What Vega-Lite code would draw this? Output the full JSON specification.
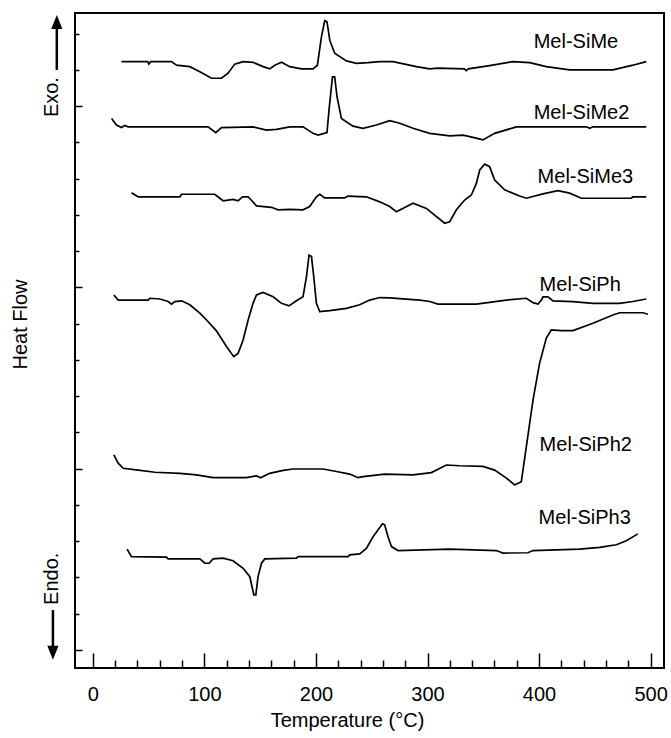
{
"$schema": "https://vega.github.io/schema/vega-lite/v6.json",
"width": 589, "height": 655,
"autosize": {"type": "none"},
"padding": {"left": 75, "top": 13, "right": 7, "bottom": 70},
"background": "white",
"config": {"view": {"stroke": "black", "strokeWidth": 2}, "font": "Liberation Sans"},
"datasets": {
"curves": [
{"s":"Mel-SiMe","T":25.7,"H":16.23},{"s":"Mel-SiMe","T":49.3,"H":16.23},{"s":"Mel-SiMe","T":50.2,"H":16.16},{"s":"Mel-SiMe","T":52.0,"H":16.23},{"s":"Mel-SiMe","T":70.5,"H":16.23},{"s":"Mel-SiMe","T":75.0,"H":16.13},{"s":"Mel-SiMe","T":86.9,"H":16.09},{"s":"Mel-SiMe","T":95.9,"H":15.95},{"s":"Mel-SiMe","T":106.4,"H":15.77},{"s":"Mel-SiMe","T":115.3,"H":15.77},{"s":"Mel-SiMe","T":121.2,"H":15.91},{"s":"Mel-SiMe","T":127.2,"H":16.16},{"s":"Mel-SiMe","T":134.7,"H":16.23},{"s":"Mel-SiMe","T":143.6,"H":16.21},{"s":"Mel-SiMe","T":152.6,"H":16.09},{"s":"Mel-SiMe","T":158.6,"H":16.03},{"s":"Mel-SiMe","T":163.1,"H":16.13},{"s":"Mel-SiMe","T":169.1,"H":16.21},{"s":"Mel-SiMe","T":176.5,"H":16.09},{"s":"Mel-SiMe","T":187.0,"H":16.03},{"s":"Mel-SiMe","T":197.4,"H":16.03},{"s":"Mel-SiMe","T":201.3,"H":16.13},{"s":"Mel-SiMe","T":204.9,"H":16.91},{"s":"Mel-SiMe","T":207.9,"H":17.36},{"s":"Mel-SiMe","T":209.9,"H":17.33},{"s":"Mel-SiMe","T":212.4,"H":16.82},{"s":"Mel-SiMe","T":216.8,"H":16.46},{"s":"Mel-SiMe","T":227.3,"H":16.25},{"s":"Mel-SiMe","T":236.3,"H":16.18},{"s":"Mel-SiMe","T":246.7,"H":16.20},{"s":"Mel-SiMe","T":257.2,"H":16.23},{"s":"Mel-SiMe","T":269.1,"H":16.23},{"s":"Mel-SiMe","T":290.0,"H":16.09},{"s":"Mel-SiMe","T":302.0,"H":16.03},{"s":"Mel-SiMe","T":309.4,"H":16.05},{"s":"Mel-SiMe","T":333.0,"H":16.03},{"s":"Mel-SiMe","T":334.8,"H":15.98},{"s":"Mel-SiMe","T":336.5,"H":16.03},{"s":"Mel-SiMe","T":355.7,"H":16.12},{"s":"Mel-SiMe","T":376.6,"H":16.23},{"s":"Mel-SiMe","T":391.6,"H":16.20},{"s":"Mel-SiMe","T":406.5,"H":16.09},{"s":"Mel-SiMe","T":427.4,"H":16.00},{"s":"Mel-SiMe","T":466.2,"H":16.00},{"s":"Mel-SiMe","T":484.1,"H":16.13},{"s":"Mel-SiMe","T":496.1,"H":16.23},
{"s":"Mel-SiMe2","T":16.8,"H":14.66},{"s":"Mel-SiMe2","T":21.2,"H":14.48},{"s":"Mel-SiMe2","T":25.7,"H":14.41},{"s":"Mel-SiMe2","T":28.7,"H":14.47},{"s":"Mel-SiMe2","T":31.6,"H":14.43},{"s":"Mel-SiMe2","T":103.3,"H":14.43},{"s":"Mel-SiMe2","T":110.2,"H":14.27},{"s":"Mel-SiMe2","T":115.3,"H":14.41},{"s":"Mel-SiMe2","T":143.6,"H":14.43},{"s":"Mel-SiMe2","T":155.6,"H":14.34},{"s":"Mel-SiMe2","T":164.6,"H":14.36},{"s":"Mel-SiMe2","T":176.5,"H":14.43},{"s":"Mel-SiMe2","T":188.4,"H":14.43},{"s":"Mel-SiMe2","T":197.4,"H":14.25},{"s":"Mel-SiMe2","T":201.9,"H":14.20},{"s":"Mel-SiMe2","T":209.9,"H":14.27},{"s":"Mel-SiMe2","T":211.7,"H":14.89},{"s":"Mel-SiMe2","T":214.8,"H":15.81},{"s":"Mel-SiMe2","T":216.8,"H":15.81},{"s":"Mel-SiMe2","T":218.9,"H":15.26},{"s":"Mel-SiMe2","T":222.8,"H":14.66},{"s":"Mel-SiMe2","T":233.2,"H":14.45},{"s":"Mel-SiMe2","T":242.2,"H":14.39},{"s":"Mel-SiMe2","T":254.2,"H":14.48},{"s":"Mel-SiMe2","T":266.1,"H":14.60},{"s":"Mel-SiMe2","T":275.1,"H":14.53},{"s":"Mel-SiMe2","T":287.0,"H":14.39},{"s":"Mel-SiMe2","T":302.0,"H":14.25},{"s":"Mel-SiMe2","T":319.9,"H":14.18},{"s":"Mel-SiMe2","T":331.8,"H":14.20},{"s":"Mel-SiMe2","T":340.8,"H":14.14},{"s":"Mel-SiMe2","T":349.7,"H":14.07},{"s":"Mel-SiMe2","T":360.2,"H":14.25},{"s":"Mel-SiMe2","T":379.7,"H":14.43},{"s":"Mel-SiMe2","T":442.4,"H":14.43},{"s":"Mel-SiMe2","T":445.4,"H":14.39},{"s":"Mel-SiMe2","T":448.4,"H":14.43},{"s":"Mel-SiMe2","T":496.1,"H":14.43},
{"s":"Mel-SiMe3","T":34.7,"H":12.61},{"s":"Mel-SiMe3","T":40.6,"H":12.50},{"s":"Mel-SiMe3","T":78.0,"H":12.50},{"s":"Mel-SiMe3","T":79.5,"H":12.57},{"s":"Mel-SiMe3","T":109.3,"H":12.57},{"s":"Mel-SiMe3","T":113.8,"H":12.46},{"s":"Mel-SiMe3","T":116.8,"H":12.39},{"s":"Mel-SiMe3","T":125.7,"H":12.43},{"s":"Mel-SiMe3","T":130.2,"H":12.39},{"s":"Mel-SiMe3","T":134.1,"H":12.50},{"s":"Mel-SiMe3","T":139.2,"H":12.50},{"s":"Mel-SiMe3","T":146.7,"H":12.25},{"s":"Mel-SiMe3","T":160.1,"H":12.21},{"s":"Mel-SiMe3","T":166.0,"H":12.14},{"s":"Mel-SiMe3","T":176.5,"H":12.15},{"s":"Mel-SiMe3","T":188.4,"H":12.14},{"s":"Mel-SiMe3","T":194.4,"H":12.23},{"s":"Mel-SiMe3","T":200.4,"H":12.50},{"s":"Mel-SiMe3","T":203.4,"H":12.57},{"s":"Mel-SiMe3","T":207.9,"H":12.47},{"s":"Mel-SiMe3","T":225.8,"H":12.47},{"s":"Mel-SiMe3","T":228.8,"H":12.52},{"s":"Mel-SiMe3","T":245.2,"H":12.50},{"s":"Mel-SiMe3","T":257.2,"H":12.36},{"s":"Mel-SiMe3","T":266.1,"H":12.23},{"s":"Mel-SiMe3","T":272.1,"H":12.09},{"s":"Mel-SiMe3","T":287.0,"H":12.32},{"s":"Mel-SiMe3","T":299.0,"H":12.18},{"s":"Mel-SiMe3","T":315.4,"H":11.77},{"s":"Mel-SiMe3","T":319.9,"H":11.81},{"s":"Mel-SiMe3","T":325.9,"H":12.14},{"s":"Mel-SiMe3","T":333.3,"H":12.41},{"s":"Mel-SiMe3","T":339.3,"H":12.55},{"s":"Mel-SiMe3","T":343.8,"H":12.87},{"s":"Mel-SiMe3","T":346.8,"H":13.24},{"s":"Mel-SiMe3","T":351.3,"H":13.40},{"s":"Mel-SiMe3","T":355.7,"H":13.33},{"s":"Mel-SiMe3","T":360.2,"H":12.96},{"s":"Mel-SiMe3","T":369.2,"H":12.69},{"s":"Mel-SiMe3","T":382.6,"H":12.52},{"s":"Mel-SiMe3","T":388.6,"H":12.46},{"s":"Mel-SiMe3","T":403.5,"H":12.58},{"s":"Mel-SiMe3","T":416.9,"H":12.67},{"s":"Mel-SiMe3","T":427.4,"H":12.60},{"s":"Mel-SiMe3","T":437.9,"H":12.46},{"s":"Mel-SiMe3","T":482.7,"H":12.46},{"s":"Mel-SiMe3","T":484.1,"H":12.50},{"s":"Mel-SiMe3","T":496.1,"H":12.50},
{"s":"Mel-SiPh","T":18.8,"H":9.79},{"s":"Mel-SiPh","T":22.7,"H":9.65},{"s":"Mel-SiPh","T":49.6,"H":9.65},{"s":"Mel-SiPh","T":51.1,"H":9.70},{"s":"Mel-SiPh","T":60.0,"H":9.68},{"s":"Mel-SiPh","T":67.5,"H":9.61},{"s":"Mel-SiPh","T":70.5,"H":9.54},{"s":"Mel-SiPh","T":73.5,"H":9.61},{"s":"Mel-SiPh","T":79.5,"H":9.63},{"s":"Mel-SiPh","T":86.9,"H":9.52},{"s":"Mel-SiPh","T":95.9,"H":9.29},{"s":"Mel-SiPh","T":101.9,"H":9.10},{"s":"Mel-SiPh","T":110.8,"H":8.80},{"s":"Mel-SiPh","T":119.8,"H":8.37},{"s":"Mel-SiPh","T":126.3,"H":8.09},{"s":"Mel-SiPh","T":130.2,"H":8.18},{"s":"Mel-SiPh","T":134.7,"H":8.55},{"s":"Mel-SiPh","T":139.2,"H":9.10},{"s":"Mel-SiPh","T":143.6,"H":9.56},{"s":"Mel-SiPh","T":146.7,"H":9.79},{"s":"Mel-SiPh","T":152.6,"H":9.86},{"s":"Mel-SiPh","T":161.6,"H":9.74},{"s":"Mel-SiPh","T":169.1,"H":9.56},{"s":"Mel-SiPh","T":175.9,"H":9.49},{"s":"Mel-SiPh","T":182.5,"H":9.63},{"s":"Mel-SiPh","T":188.4,"H":9.74},{"s":"Mel-SiPh","T":191.5,"H":10.30},{"s":"Mel-SiPh","T":193.8,"H":10.89},{"s":"Mel-SiPh","T":196.0,"H":10.85},{"s":"Mel-SiPh","T":198.0,"H":10.30},{"s":"Mel-SiPh","T":200.4,"H":9.56},{"s":"Mel-SiPh","T":203.4,"H":9.33},{"s":"Mel-SiPh","T":212.4,"H":9.36},{"s":"Mel-SiPh","T":227.3,"H":9.42},{"s":"Mel-SiPh","T":239.2,"H":9.52},{"s":"Mel-SiPh","T":248.2,"H":9.65},{"s":"Mel-SiPh","T":257.2,"H":9.72},{"s":"Mel-SiPh","T":266.1,"H":9.71},{"s":"Mel-SiPh","T":293.0,"H":9.65},{"s":"Mel-SiPh","T":302.0,"H":9.61},{"s":"Mel-SiPh","T":309.4,"H":9.54},{"s":"Mel-SiPh","T":343.8,"H":9.54},{"s":"Mel-SiPh","T":370.7,"H":9.65},{"s":"Mel-SiPh","T":388.6,"H":9.70},{"s":"Mel-SiPh","T":394.6,"H":9.58},{"s":"Mel-SiPh","T":399.1,"H":9.54},{"s":"Mel-SiPh","T":402.1,"H":9.65},{"s":"Mel-SiPh","T":403.5,"H":9.74},{"s":"Mel-SiPh","T":408.0,"H":9.74},{"s":"Mel-SiPh","T":412.5,"H":9.63},{"s":"Mel-SiPh","T":430.4,"H":9.61},{"s":"Mel-SiPh","T":448.3,"H":9.56},{"s":"Mel-SiPh","T":472.2,"H":9.56},{"s":"Mel-SiPh","T":484.1,"H":9.61},{"s":"Mel-SiPh","T":496.1,"H":9.68},
{"s":"Mel-SiPh2","T":18.8,"H":5.38},{"s":"Mel-SiPh2","T":22.7,"H":5.15},{"s":"Mel-SiPh2","T":27.2,"H":5.01},{"s":"Mel-SiPh2","T":40.6,"H":4.96},{"s":"Mel-SiPh2","T":55.6,"H":4.90},{"s":"Mel-SiPh2","T":78.0,"H":4.87},{"s":"Mel-SiPh2","T":92.9,"H":4.83},{"s":"Mel-SiPh2","T":107.8,"H":4.75},{"s":"Mel-SiPh2","T":137.7,"H":4.75},{"s":"Mel-SiPh2","T":146.7,"H":4.80},{"s":"Mel-SiPh2","T":150.3,"H":4.75},{"s":"Mel-SiPh2","T":158.6,"H":4.87},{"s":"Mel-SiPh2","T":170.6,"H":4.95},{"s":"Mel-SiPh2","T":179.5,"H":4.99},{"s":"Mel-SiPh2","T":206.4,"H":4.99},{"s":"Mel-SiPh2","T":218.4,"H":4.92},{"s":"Mel-SiPh2","T":230.3,"H":4.85},{"s":"Mel-SiPh2","T":237.7,"H":4.75},{"s":"Mel-SiPh2","T":242.2,"H":4.78},{"s":"Mel-SiPh2","T":261.6,"H":4.85},{"s":"Mel-SiPh2","T":287.0,"H":4.83},{"s":"Mel-SiPh2","T":303.5,"H":4.89},{"s":"Mel-SiPh2","T":316.9,"H":5.10},{"s":"Mel-SiPh2","T":328.8,"H":5.08},{"s":"Mel-SiPh2","T":349.7,"H":5.06},{"s":"Mel-SiPh2","T":360.2,"H":4.96},{"s":"Mel-SiPh2","T":370.7,"H":4.74},{"s":"Mel-SiPh2","T":378.1,"H":4.55},{"s":"Mel-SiPh2","T":384.1,"H":4.64},{"s":"Mel-SiPh2","T":388.6,"H":5.61},{"s":"Mel-SiPh2","T":394.6,"H":6.90},{"s":"Mel-SiPh2","T":400.5,"H":7.91},{"s":"Mel-SiPh2","T":406.5,"H":8.60},{"s":"Mel-SiPh2","T":411.0,"H":8.83},{"s":"Mel-SiPh2","T":420.0,"H":8.81},{"s":"Mel-SiPh2","T":430.4,"H":8.81},{"s":"Mel-SiPh2","T":448.3,"H":9.01},{"s":"Mel-SiPh2","T":466.2,"H":9.24},{"s":"Mel-SiPh2","T":472.2,"H":9.30},{"s":"Mel-SiPh2","T":493.1,"H":9.30},{"s":"Mel-SiPh2","T":497.6,"H":9.26},
{"s":"Mel-SiPh3","T":30.7,"H":2.78},{"s":"Mel-SiPh3","T":34.6,"H":2.57},{"s":"Mel-SiPh3","T":66.0,"H":2.56},{"s":"Mel-SiPh3","T":67.5,"H":2.51},{"s":"Mel-SiPh3","T":95.9,"H":2.51},{"s":"Mel-SiPh3","T":100.4,"H":2.39},{"s":"Mel-SiPh3","T":104.2,"H":2.39},{"s":"Mel-SiPh3","T":107.8,"H":2.51},{"s":"Mel-SiPh3","T":116.8,"H":2.53},{"s":"Mel-SiPh3","T":125.7,"H":2.46},{"s":"Mel-SiPh3","T":134.7,"H":2.25},{"s":"Mel-SiPh3","T":140.7,"H":2.02},{"s":"Mel-SiPh3","T":144.3,"H":1.52},{"s":"Mel-SiPh3","T":146.1,"H":1.52},{"s":"Mel-SiPh3","T":148.1,"H":2.02},{"s":"Mel-SiPh3","T":151.2,"H":2.39},{"s":"Mel-SiPh3","T":154.1,"H":2.51},{"s":"Mel-SiPh3","T":182.5,"H":2.53},{"s":"Mel-SiPh3","T":184.0,"H":2.57},{"s":"Mel-SiPh3","T":228.8,"H":2.57},{"s":"Mel-SiPh3","T":230.3,"H":2.62},{"s":"Mel-SiPh3","T":239.2,"H":2.65},{"s":"Mel-SiPh3","T":245.2,"H":2.80},{"s":"Mel-SiPh3","T":251.2,"H":3.12},{"s":"Mel-SiPh3","T":259.6,"H":3.48},{"s":"Mel-SiPh3","T":261.6,"H":3.45},{"s":"Mel-SiPh3","T":264.6,"H":3.12},{"s":"Mel-SiPh3","T":267.7,"H":2.85},{"s":"Mel-SiPh3","T":273.6,"H":2.74},{"s":"Mel-SiPh3","T":319.9,"H":2.78},{"s":"Mel-SiPh3","T":361.7,"H":2.74},{"s":"Mel-SiPh3","T":367.6,"H":2.67},{"s":"Mel-SiPh3","T":390.0,"H":2.68},{"s":"Mel-SiPh3","T":394.5,"H":2.74},{"s":"Mel-SiPh3","T":436.4,"H":2.78},{"s":"Mel-SiPh3","T":454.3,"H":2.83},{"s":"Mel-SiPh3","T":469.3,"H":2.90},{"s":"Mel-SiPh3","T":478.2,"H":3.01},{"s":"Mel-SiPh3","T":488.6,"H":3.20}
],
"labels": [
{"label":"Mel-SiMe","T":395.2,"H":16.77},
{"label":"Mel-SiMe2","T":395.2,"H":14.81},
{"label":"Mel-SiMe3","T":398.7,"H":13.04},
{"label":"Mel-SiPh","T":400.5,"H":10.07},
{"label":"Mel-SiPh2","T":400.5,"H":5.65},
{"label":"Mel-SiPh3","T":399.6,"H":3.64}
],
"notes": [
{"label":"Exo.","T":-36.7,"H":15.25},
{"label":"Endo.","T":-36.7,"H":1.96}
],
"arrows": [
{"T":-32.3,"H":16.0,"H2":17.15},
{"T":-35.8,"H":1.10,"H2":0.06}
],
"heads": [
{"dir":"up","T":-32.3,"H":17.32},
{"dir":"down","T":-35.8,"H":-0.08}
]
},
"encoding": {
"x": {"field":"T","type":"quantitative",
 "scale":{"domain":[-16,512],"nice":false,"zero":false},
 "axis":{"title":"Temperature (°C)","values":[0,20,40,60,80,100,120,140,160,180,200,220,240,260,280,300,320,340,360,380,400,420,440,460,480,500],
  "labelExpr":"datum.value % 100 === 0 ? datum.label : ''","labelOverlap":false,"labelFlush":false,
  "grid":false,"domain":false,"tickColor":"black","tickWidth":1.5,
  "tickSize":{"condition":{"test":"datum.value % 100 === 0","value":-15},"value":-8},
  "labelFontSize":20,"labelColor":"black","labelPadding":31,"labelFont":"Liberation Sans",
  "titleFontSize":20,"titleFontWeight":"normal","titleColor":"black","titleFont":"Liberation Sans",
  "titleX":272,"titleY":52,"titleBaseline":"middle"}},
"y": {"field":"H","type":"quantitative",
 "scale":{"domain":[-0.5,17.57],"nice":false,"zero":false},
 "axis":{"title":"Heat Flow","values":[0,1,2,3,4,5,6,7,8,9,10,11,12,13,14,15,16,17],"labels":false,
  "grid":false,"domain":false,"tickColor":"black","tickWidth":1.5,
  "tickSize":{"condition":{"test":"datum.value % 5 === 0","value":-7},"value":-4},
  "titleFontSize":20,"titleFontWeight":"normal","titleColor":"black","titleFont":"Liberation Sans",
  "titleX":-55,"titleY":311,"titleBaseline":"middle","titleAngle":270}}
},
"layer": [
{"data":{"name":"curves"},"mark":{"type":"line","color":"black","strokeWidth":1.7},
 "encoding":{"detail":{"field":"s","type":"nominal"}}},
{"data":{"name":"labels"},"mark":{"type":"text","align":"left","baseline":"middle","fontSize":20,"font":"Liberation Sans","color":"black"},
 "encoding":{"text":{"field":"label","type":"nominal"}}},
{"data":{"name":"notes"},"mark":{"type":"text","align":"center","baseline":"middle","angle":270,"fontSize":20,"font":"Liberation Sans","color":"black"},
 "encoding":{"text":{"field":"label","type":"nominal"}}},
{"data":{"name":"arrows"},"mark":{"type":"rule","color":"black","strokeWidth":2.5},
 "encoding":{"y2":{"field":"H2"}}},
{"data":{"name":"heads"},"mark":{"type":"point","filled":true,"color":"black","opacity":1,"size":196},
 "encoding":{"shape":{"field":"dir","type":"nominal","scale":{"domain":["up","down"],"range":["M0,-1L0.8,1L-0.8,1Z","M0,1L0.8,-1L-0.8,-1Z"]},"legend":null}}}
]
}
